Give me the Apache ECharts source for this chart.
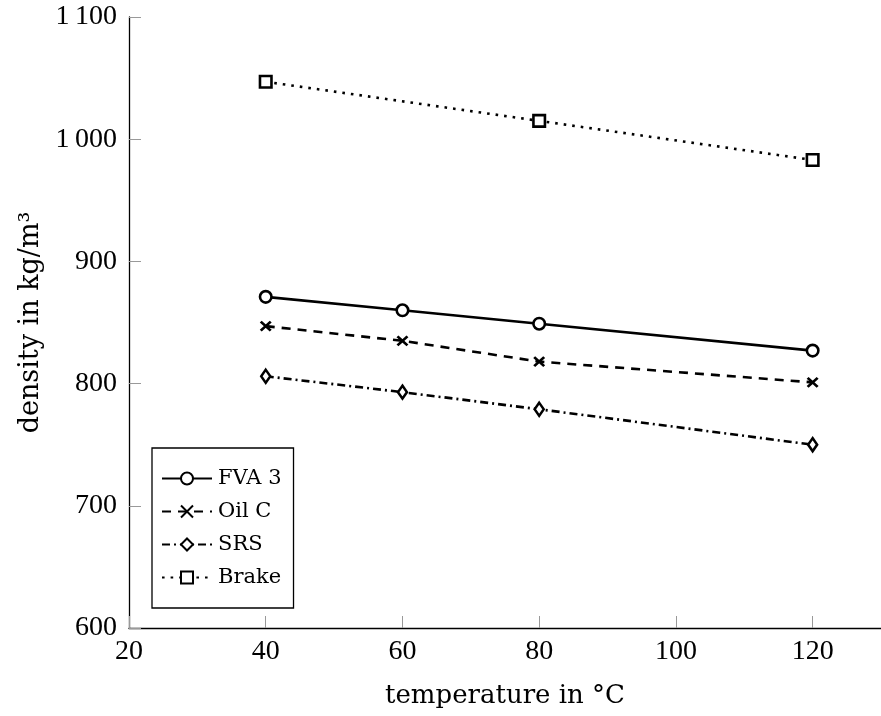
<!DOCTYPE html>
<html>
<head>
<meta charset="utf-8">
<script src="https://cdn.jsdelivr.net/npm/echarts@6/dist/echarts.min.js"></script>
<style>html,body{margin:0;padding:0;background:#fff;}#c{width:881px;height:716px;}</style>
</head>
<body>
<div id="c"></div>
<script>
// ---- data ----
const temps = [40, 60, 80, 120];
const fva3 = [871, 860, 849, 827];
const oilC = [847, 835, 818, 801];
const srs = [806, 793, 779, 750];
const brakeTemps = [40, 80, 120];
const brake = [1047, 1015, 983];
const xTicks = [20, 40, 60, 80, 100, 120];
const yTicks = [600, 700, 800, 900, 1000, 1100];
const seriesNames = ['FVA 3', 'Oil C', 'SRS', 'Brake'];

function pairs(xs, ys) { return xs.map((x, i) => [x, ys[i]]); }
function fmtY(v) {
  if (v >= 1000) { return Math.floor(v / 1000) + '\u2009' + String(v % 1000).padStart(3, '0'); }
  return String(v);
}

const chart = echarts.init(document.getElementById('c'), null, { renderer: 'canvas' });
const LW = 2.6;
const sym = { color: '#fff', borderColor: '#000', borderWidth: LW };
const tickFont = { fontFamily: 'Liberation Serif', fontSize: 28, color: '#000' };
const nameFont = { fontFamily: 'DejaVu Serif', fontSize: 26, color: '#000' };

chart.setOption({
  animation: false,
  backgroundColor: '#fff',
  grid: { left: 129, top: 17, right: -10, bottom: 88, containLabel: false },
  xAxis: {
    type: 'value', min: 20, max: 130, interval: 20,
    name: 'temperature in \u00B0C', nameLocation: 'middle', nameGap: 55,
    nameTextStyle: nameFont,
    axisLine: { lineStyle: { color: '#000', width: 1.3 } },
    axisTick: { inside: true, length: 12, lineStyle: { color: '#999', width: 1 } },
    splitLine: { show: false },
    axisLabel: Object.assign({ margin: 10, showMaxLabel: false,
      formatter: v => (xTicks.indexOf(v) >= 0 ? String(v) : '') }, tickFont)
  },
  yAxis: {
    type: 'value', min: 600, max: 1100, interval: 100,
    name: 'density in kg/m\u00B3', nameLocation: 'middle', nameGap: 82,
    nameTextStyle: Object.assign({}, nameFont, { fontSize: 27 }),
    axisLine: { show: true, lineStyle: { color: '#000', width: 1.3 } },
    axisTick: { show: true, inside: true, length: 12, lineStyle: { color: '#999', width: 1 } },
    splitLine: { show: false },
    axisLabel: Object.assign({ margin: 12,
      formatter: v => (yTicks.indexOf(v) >= 0 ? fmtY(v) : '') }, tickFont)
  },
  legend: {
    orient: 'vertical', left: 152, top: 448,
    data: seriesNames,
    itemWidth: 50, itemHeight: 15, itemGap: 12,
    padding: [20, 12, 20, 9],
    borderColor: '#000', borderWidth: 1.3, borderRadius: 0,
    backgroundColor: '#fff',
    textStyle: { fontFamily: 'DejaVu Serif', fontSize: 21, color: '#000', padding: [0, 0, 0, 1] }
  },
  series: [
    {
      name: seriesNames[0], type: 'line', data: pairs(temps, fva3),
      symbol: 'circle', symbolSize: 11.5, itemStyle: sym,
      lineStyle: { color: '#000', width: LW, type: 'solid' }
    },
    {
      name: seriesNames[1], type: 'line', data: pairs(temps, oilC),
      symbol: 'path://M0,0L10,9M10,0L0,9', symbolSize: [10, 9], itemStyle: sym,
      lineStyle: { color: '#000', width: LW, type: [9, 7] }
    },
    {
      name: seriesNames[2], type: 'line', data: pairs(temps, srs),
      symbol: 'diamond', symbolSize: [9, 13], itemStyle: sym,
      lineStyle: { color: '#000', width: LW, type: [8, 4, 2, 4] }
    },
    {
      name: seriesNames[3], type: 'line', data: pairs(brakeTemps, brake),
      symbol: 'rect', symbolSize: 11.5, itemStyle: sym,
      lineStyle: { color: '#000', width: LW, type: [2.6, 6] }
    }
  ]
});
</script>
</body>
</html>
